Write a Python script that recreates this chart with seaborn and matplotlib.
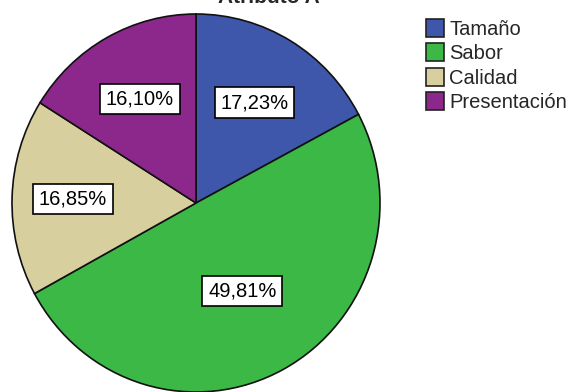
import matplotlib
matplotlib.use('Agg')
import matplotlib.pyplot as plt
import seaborn as sns
import numpy as np

# Data
categories = ['Tamaño', 'Sabor', 'Calidad', 'Presentación']
percentages = [17.23, 49.81, 16.85, 16.10]
labels = ['17,23%', '49,81%', '16,85%', '16,10%']
title = 'Atributo A'

# SPSS-like palette
colors = ['#3F57AA', '#3BB846', '#D8CF9E', '#8C288C']
# label placement (fraction of radius along the wedge's middle)
label_radius = [0.62, 0.53, 0.67, 0.63]

sns.set_style('white')
plt.rcParams['font.family'] = ['Liberation Sans', 'DejaVu Sans']

W, H = 573, 392
fig = plt.figure(figsize=(W / 100, H / 100), dpi=100)
cx, cy, rx, ry = 196, 203, 184, 189
ax = fig.add_axes([(cx - rx) / W, (H - cy - ry) / H, 2 * rx / W, 2 * ry / H])

wedges, _ = ax.pie(percentages, colors=colors, startangle=90, counterclock=False,
                   wedgeprops=dict(edgecolor='#111111', linewidth=1.2))
ax.set_xlim(-1, 1)
ax.set_ylim(-1, 1)
ax.set_aspect('auto')
ax.axis('off')

for w, lab, lr in zip(wedges, labels, label_radius):
    ang = np.deg2rad((w.theta1 + w.theta2) / 2)
    ax.text(lr * np.cos(ang), lr * np.sin(ang), lab, ha='center', va='center',
            fontsize=14.5, color='black',
            bbox=dict(boxstyle='square,pad=0.28', facecolor='white',
                      edgecolor='black', linewidth=1.2))

fig.text(269 / W, (H - 3) / H, title, ha='center', va='baseline',
         fontsize=15, fontweight='bold')

leg = fig.legend(wedges, categories, loc='upper left', bbox_to_anchor=(426 / W, 1 - 19 / H),
                 frameon=False, fontsize=14.5, handlelength=0.9, handleheight=1.0,
                 handletextpad=0.25, labelspacing=0.22, borderpad=0, borderaxespad=0)
for h in leg.legend_handles:
    h.set_edgecolor('#222222')
    h.set_linewidth(1.2)

fig.savefig('out.png', dpi=100, facecolor='white')
